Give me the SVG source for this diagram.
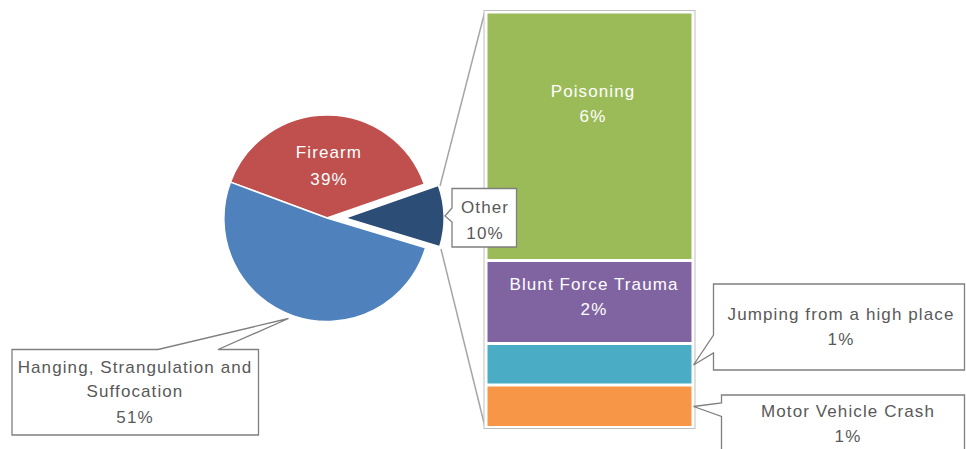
<svg xmlns="http://www.w3.org/2000/svg" width="966" height="449" viewBox="0 0 966 449">
<style>
text{font-family:"Liberation Sans",Arial,sans-serif;font-size:17px;letter-spacing:1.1px;text-anchor:middle}
.w{fill:#ffffff}
.g{fill:#595959}
.slice{stroke:#ffffff;stroke-width:1.5}
.seg{stroke:none}
.call{fill:#ffffff;stroke:#7f7f7f;stroke-width:1.3}
.conn{fill:none;stroke:#a6a6a6;stroke-width:1.5}
</style>
<rect width="966" height="449" fill="#ffffff"/>
<g id="connectors">
<line class="conn" x1="440" y1="186" x2="485" y2="11"/>
<line class="conn" x1="441" y1="249" x2="485" y2="427"/>
</g>
<g id="pie-firearm">
<path class="slice" fill="#c0504d" d="M327,218 L230.5,182.1 A103,103 0 0,1 424.3,184.1 Z"/>
<text class="w" x="329" y="158">Firearm</text>
<text class="w" x="329" y="185">39%</text>
</g>
<g id="pie-hanging">
<path class="slice" fill="#4f81bd" d="M327,218 L425.6,247.8 A103,103 0 1,1 230.5,182.1 Z"/>
</g>
<g id="pie-other">
<path class="slice" fill="#2c4d75" d="M345,218 L438.5,185.4 A99,99 0 0,1 439.8,246.6 Z"/>
</g>
<g id="bar">
<rect x="484" y="10.5" width="211" height="418" fill="#ffffff" stroke="#bfbfbf" stroke-width="1"/>
</g>
<g id="bar-poisoning">
<rect class="seg" x="487.5" y="13.5" width="204" height="245.5" fill="#9bbb59"/>
<text class="w" x="593" y="97">Poisoning</text>
<text class="w" x="593" y="122">6%</text>
</g>
<g id="bar-blunt">
<rect class="seg" x="487.5" y="262" width="204" height="80" fill="#8064a2"/>
<text class="w" x="594" y="290">Blunt Force Trauma</text>
<text class="w" x="594" y="315">2%</text>
</g>
<g id="bar-jumping">
<rect class="seg" x="487.5" y="345" width="204" height="38.5" fill="#4bacc6"/>
</g>
<g id="bar-motor">
<rect class="seg" x="487.5" y="386.5" width="204" height="39.5" fill="#f79646"/>
</g>
<g id="label-other">
<path class="call" d="M452,188.5 H516.5 V247 H452 V222 L445,216 L452,208 Z"/>
<text class="g" x="485" y="213">Other</text>
<text class="g" x="485" y="239">10%</text>
</g>
<g id="label-hanging">
<path class="call" d="M12,349.5 H158 L288.5,318.5 L218,349.5 H258.5 V435 H12 Z"/>
<text class="g" x="135" y="373">Hanging, Strangulation and</text>
<text class="g" x="135" y="397">Suffocation</text>
<text class="g" x="135" y="423">51%</text>
</g>
<g id="label-jumping">
<path class="call" d="M713.5,284 H964.5 V370 H713.5 V353 L693.5,365 L713.5,335 Z"/>
<text class="g" x="841" y="320">Jumping from a high place</text>
<text class="g" x="841" y="345">1%</text>
</g>
<g id="label-motor">
<path class="call" d="M721.5,452 V416.5 L693.5,406.5 L721.5,403 V395 H964.5 V452"/>
<text class="g" x="848" y="417">Motor Vehicle Crash</text>
<text class="g" x="848" y="442">1%</text>
</g>
</svg>
